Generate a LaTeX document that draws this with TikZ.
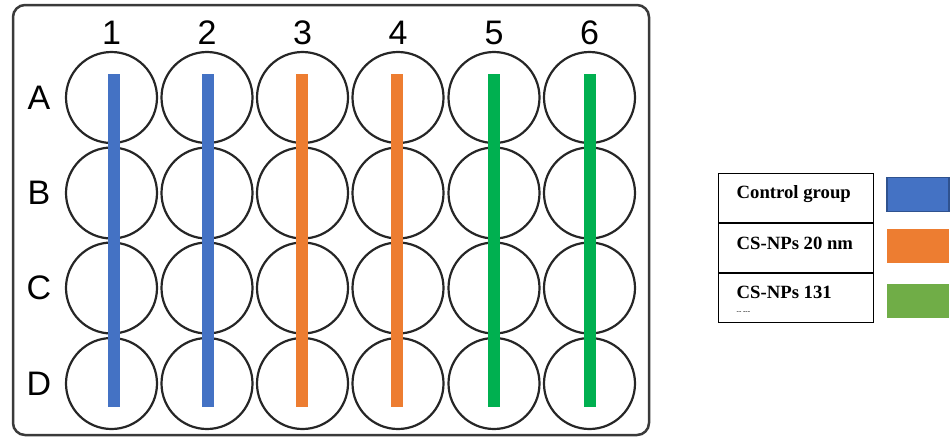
\documentclass[tikz,border=0pt]{standalone}
\usepackage{fontspec}
\setmainfont{Liberation Sans}
\newfontfamily\keyfont{Liberation Serif}
\usetikzlibrary{positioning,calc}
\definecolor{ctrlblue}{HTML}{4472C4}
\definecolor{ctrlblueedge}{HTML}{2F528F}
\definecolor{npsorange}{HTML}{ED7D31}
\definecolor{npsgreen}{HTML}{00B050}
\definecolor{keygreen}{HTML}{70AD47}
\definecolor{platerim}{HTML}{3A3A3A}

\begin{document}
\begin{tikzpicture}[x=1pt,y=-1pt,
  well/.style={draw=black!85,line width=2.2pt,circle,minimum size=91pt,inner sep=0pt},
  platelabel/.style={font=\fontsize{34}{34}\selectfont,inner sep=0pt},
  keycell/.style={draw,line width=1pt,minimum width=155pt,minimum height=49pt,inner sep=0pt},
  keytext/.style={font=\keyfont\bfseries\fontsize{18.7}{20}\selectfont,inner sep=0pt,anchor=west},
  swatch/.style={minimum width=62pt,minimum height=34pt,inner sep=0pt}]
  \useasboundingbox (0,0) rectangle (951,437);

  % plate
  \draw[platerim,line width=2.5pt,rounded corners=12pt] (13,5) rectangle (649,435);
  \foreach \r/\y in {A/97.5,B/193,C/288,D/383.5}
    \node[platelabel] (row\r) at (39,\y) {\r};
  \foreach \c/\x in {1/111.5,2/207,3/302.5,4/398,5/494,6/589.5} {
    \node[platelabel] (col\c) at (\x,33) {\c};
    \foreach \r/\y in {A/97.5,B/193,C/288,D/383.5}
      \node[well] (well\r\c) at (\x,\y) {};
  }

  % treatment bars
  \foreach \x/\col in {114/ctrlblue,208/ctrlblue,302/npsorange,397/npsorange,494/npsgreen,590/npsgreen}
    \fill[\col] (\x-6,74) rectangle (\x+6,407);

  % legend
  \node[keycell] (keyctrl) at (795.5,197.5) {};
  \node[keycell,below=0pt of keyctrl] (keytwenty) {};
  \node[keycell,below=0pt of keytwenty] (keylarge) {};
  \node[keytext] at ($(keyctrl.west)+(19,-3)$) {Control group};
  \node[keytext] at ($(keytwenty.west)+(19,-4)$) {CS-NPs 20 nm};
  \node[keytext] at ($(keylarge.west)+(19,-5)$) {CS-NPs 131};
  \node[font=\keyfont\fontsize{7}{7}\selectfont,inner sep=0pt,anchor=west] at ($(keylarge.west)+(19,15)$) {{-}{-} {-}{-}{-}};

  \node[swatch,fill=ctrlblue,draw=ctrlblueedge,line width=1.2pt] (swctrl) at (918,194.5) {};
  \node[swatch,fill=npsorange] (swtwenty) at (918,246) {};
  \node[swatch,fill=keygreen] (swlarge) at (918,300.5) {};
\end{tikzpicture}
\end{document}
